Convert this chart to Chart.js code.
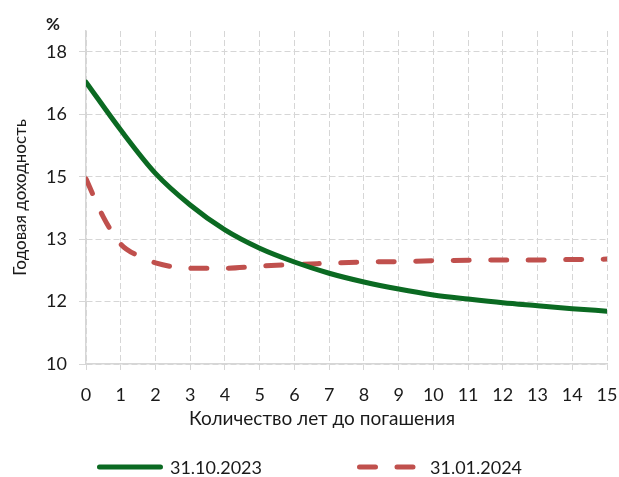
<!DOCTYPE html>
<html>
<head>
<meta charset="utf-8">
<script src="https://cdn.jsdelivr.net/npm/chart.js@4/dist/chart.umd.min.js"></script>
<style>
  html, body { margin: 0; padding: 0; background: #fff; }
  #wrap { width: 619px; height: 477px; position: relative; }
</style>
</head>
<body>
<div id="wrap"><canvas id="yieldChart"></canvas></div>
<script>
// maturity in years
const yearsOct = [0, 1, 2, 3, 4, 5, 6, 7, 8, 9, 10, 11, 12, 13, 14, 15];
const yearsJan = [0, 0.5, 1, 1.5, 2, 3, 4, 5, 6, 7, 8, 9, 10, 11, 12, 13, 14, 15];
// yield curve on 31.10.2023, %
const curveOct = [16.77, 15.62, 14.58, 13.82, 13.22, 12.78, 12.45, 12.18, 11.97, 11.8, 11.66, 11.56, 11.47, 11.4, 11.33, 11.27];
// yield curve on 31.01.2024, %
const curveJan = [14.45, 13.53, 12.88, 12.6, 12.43, 12.3, 12.3, 12.35, 12.39, 12.42, 12.45, 12.46, 12.48, 12.49, 12.5, 12.5, 12.51, 12.52];
const seriesNames = ["31.10.2023", "31.01.2024"];
const xTicks = [0, 1, 2, 3, 4, 5, 6, 7, 8, 9, 10, 11, 12, 13, 14, 15];
const yTicks = [10, 11.5, 13, 14.5, 16, 17.5];

const FONT = "Lato";
const TEXT = "#1a1a1a";
const GRID = "#d6d6d6";

const toPoints = (xs, ys) => ys.map((v, i) => ({ x: xs[i], y: v }));

// extra texts: "%" unit, x-axis title, legend
const extras = {
  id: "extras",
  afterDraw(chart) {
    const ctx = chart.ctx;
    ctx.save();
    ctx.fillStyle = TEXT;
    ctx.textBaseline = "middle";
    ctx.textAlign = "center";
    ctx.font = "bold 17px " + FONT;
    ctx.fillText("%", 53, 25);
    ctx.font = "19px " + FONT;
    ctx.fillText("Количество лет до погашения", 322, 419);

    // legend
    ctx.font = "18px " + FONT;
    ctx.textAlign = "left";
    const sample = 66, gapText = 7, gapItems = 95, ly = 467;
    const widths = chart.data.datasets.map(d => sample + gapText + ctx.measureText(d.label).width);
    let x = (chart.width - widths.reduce((a, b) => a + b, 0) - gapItems) / 2;
    chart.data.datasets.forEach((d, i) => {
      ctx.save();
      ctx.strokeStyle = d.borderColor;
      ctx.lineWidth = d.borderWidth;
      ctx.lineCap = "round";
      ctx.setLineDash(d.borderDash || []);
      ctx.beginPath();
      ctx.moveTo(x + 2.5, ly);
      ctx.lineTo(x + sample - 2.5, ly);
      ctx.stroke();
      ctx.restore();
      ctx.fillText(d.label, x + sample + gapText, ly + 1);
      x += widths[i] + gapItems;
    });
    ctx.restore();
  }
};

new Chart(document.getElementById("yieldChart"), {
  type: "line",
  data: {
    datasets: [
      {
        label: seriesNames[0],
        data: toPoints(yearsOct, curveOct),
        borderColor: "#0b6a22",
        borderWidth: 5,
        pointRadius: 0,
        cubicInterpolationMode: "monotone",
        borderCapStyle: "round"
      },
      {
        label: seriesNames[1],
        data: toPoints(yearsJan, curveJan),
        borderColor: "#c0504d",
        borderWidth: 5,
        borderDash: [16, 21.5],
        pointRadius: 0,
        cubicInterpolationMode: "monotone",
        borderCapStyle: "round"
      }
    ]
  },
  options: {
    responsive: true,
    maintainAspectRatio: false,
    animation: false,
    layout: { padding: { top: 31, right: 12, left: 0, bottom: 0 } },
    plugins: {
      legend: { display: false },
      tooltip: { enabled: false }
    },
    scales: {
      x: {
        type: "linear",
        min: 0,
        max: 15,
        afterBuildTicks: s => { s.ticks = xTicks.map(v => ({ value: v })); },
        afterFit: s => { s.height = 113; s.paddingLeft = 0; s.paddingRight = 0; },
        grid: { color: GRID, lineWidth: 1, tickLength: 6, tickColor: GRID },
        border: { display: true, color: GRID, width: 1.5, dash: [6, 3] },
        ticks: { color: TEXT, font: { family: FONT, size: 18 }, padding: 14, maxRotation: 0 }
      },
      y: {
        type: "linear",
        min: 10,
        max: 18,
        afterBuildTicks: s => { s.ticks = yTicks.map(v => ({ value: v })); },
        afterFit: s => { s.width = 86; },
        grid: { color: GRID, lineWidth: 1, tickLength: 7, tickColor: GRID },
        border: { display: true, color: GRID, width: 1.5, dash: [6, 3] },
        ticks: {
          color: TEXT,
          font: { family: FONT, size: 18 },
          padding: 12,
          callback: v => Math.round(v)
        },
        title: {
          display: true,
          text: "Годовая доходность",
          color: TEXT,
          font: { family: FONT, size: 17 },
          padding: { top: 10, bottom: 0 }
        }
      }
    }
  },
  plugins: [extras]
});
</script>
</body>
</html>
